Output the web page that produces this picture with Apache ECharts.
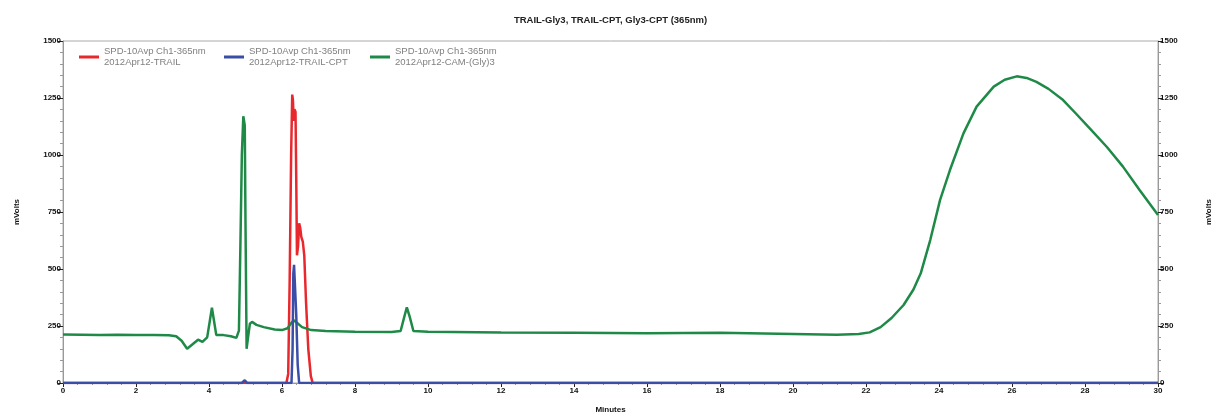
<!DOCTYPE html>
<html>
<head>
<meta charset="utf-8">
<title>TRAIL-Gly3, TRAIL-CPT, Gly3-CPT (365nm)</title>
<script src="https://cdn.jsdelivr.net/npm/echarts@6/dist/echarts.min.js"></script>
<style>
    html, body { margin: 0; padding: 0; background: #fff; }
    #chart { width: 1221px; height: 419px; }
</style>
</head>
<body>
<div id="chart"></div>
<script>
// 色谱图 365nm
var seriesNames = [
    'SPD-10Avp Ch1-365nm\n2012Apr12-TRAIL',
    'SPD-10Avp Ch1-365nm\n2012Apr12-TRAIL-CPT',
    'SPD-10Avp Ch1-365nm\n2012Apr12-CAM-(Gly)3'
];

// [分钟, mVolts]
var trailData = [
    [0, 0], [6.12, 0], [6.17, 40], [6.21, 450], [6.25, 1000], [6.28, 1265],
    [6.30, 1240], [6.32, 1150], [6.34, 1200], [6.37, 1190], [6.39, 900],
    [6.41, 560], [6.44, 600], [6.47, 700], [6.50, 680], [6.53, 640],
    [6.57, 620], [6.61, 560], [6.66, 350], [6.72, 150], [6.79, 30],
    [6.84, 0], [30, 0]
];

var trailCptData = [
    [0, 0], [4.9, 0], [4.98, 12], [5.05, 0], [6.26, 0], [6.29, 150],
    [6.31, 480], [6.33, 518], [6.36, 510], [6.39, 300], [6.43, 80],
    [6.47, 0], [30, 0]
];

var gly3Data = [
    [0, 213], [0.5, 212], [1, 210], [1.5, 212], [2, 210], [2.5, 210],
    [2.9, 209], [3.1, 205], [3.25, 185], [3.4, 150], [3.55, 170],
    [3.7, 190], [3.82, 180], [3.95, 200], [4.02, 270], [4.08, 330],
    [4.14, 270], [4.2, 210], [4.4, 210], [4.6, 205], [4.75, 198],
    [4.82, 230], [4.86, 600], [4.9, 1000], [4.94, 1170], [4.98, 1130],
    [5.0, 700], [5.03, 150], [5.07, 200], [5.12, 260], [5.18, 268],
    [5.3, 255], [5.5, 245], [5.8, 235], [6.0, 232], [6.15, 240],
    [6.25, 262], [6.32, 275], [6.4, 265], [6.55, 245], [6.8, 232],
    [7.2, 228], [8, 225], [9, 224], [9.25, 228], [9.35, 290], [9.42, 332],
    [9.5, 290], [9.6, 228], [10, 225], [12, 222], [14, 220], [16, 218],
    [18, 220], [20, 215], [21.2, 212], [21.8, 215], [22.1, 222],
    [22.4, 245], [22.7, 285], [23.03, 342], [23.3, 410], [23.5, 481],
    [23.76, 627], [24.03, 803], [24.3, 934], [24.67, 1095], [25.03, 1212],
    [25.5, 1300], [25.8, 1330], [26.13, 1345], [26.4, 1338], [26.67, 1321],
    [27.0, 1290], [27.4, 1241], [27.75, 1182], [28.13, 1117], [28.6, 1035],
    [29.04, 949], [29.5, 845], [30, 737]
];

var colors = ['#e8282d', '#3a4ea8', '#1f8a47'];

var chart = echarts.init(document.getElementById('chart'));

var boldText = {
    color: '#111',
    fontSize: 8,
    fontWeight: 'bold',
    fontFamily: 'Liberation Sans'
};

function yAxisAt(position, gap) {
    return {
        type: 'value',
        position: position,
        min: 0,
        max: 1500,
        interval: 250,
        name: 'mVolts',
        nameLocation: 'middle',
        nameGap: gap,
        nameRotate: 90,
        nameTextStyle: boldText,
        axisLine: { show: true, lineStyle: { color: '#999', width: 1 } },
        axisTick: { show: true, length: 5, lineStyle: { color: '#222' } },
        minorTick: { show: true, splitNumber: 5, length: 3, lineStyle: { color: '#999' } },
        axisLabel: Object.assign({}, boldText, {
            margin: 2,
            formatter: function (v) { return String(v); }
        }),
        splitLine: { show: false }
    };
}

function legendAt(left, idx) {
    return {
        left: left,
        top: 46,
        padding: 0,
        orient: 'horizontal',
        data: [seriesNames[idx]],
        icon: 'rect',
        itemWidth: 20,
        itemHeight: 3,
        itemGap: 5,
        textStyle: {
            color: '#808080',
            fontSize: 9.5,
            lineHeight: 11,
            fontFamily: 'Liberation Sans'
        }
    };
}

var option = {
    animation: false,
    backgroundColor: '#fff',
    color: colors,
    title: {
        text: 'TRAIL-Gly3, TRAIL-CPT, Gly3-CPT (365nm)',
        left: 'center',
        top: 10,
        textStyle: {
            color: '#222',
            fontSize: 9.5,
            fontWeight: 'bold',
            fontFamily: 'Liberation Sans'
        }
    },
    legend: [legendAt(79, 0), legendAt(224, 1), legendAt(370, 2)],
    grid: {
        left: 63,
        right: 58,
        top: 41,
        bottom: 36,
        show: true,
        borderColor: '#aaa',
        borderWidth: 1
    },
    xAxis: {
        type: 'value',
        min: 0,
        max: 30,
        interval: 2,
        name: 'Minutes',
        nameLocation: 'middle',
        nameGap: 23,
        nameTextStyle: boldText,
        axisLine: { show: true, lineStyle: { color: '#999' } },
        axisTick: { show: true, length: 4, lineStyle: { color: '#222' } },
        minorTick: { show: true, splitNumber: 5, length: 2, lineStyle: { color: '#999' } },
        axisLabel: Object.assign({}, boldText, { margin: 4 }),
        splitLine: { show: false }
    },
    yAxis: [yAxisAt('left', 42), yAxisAt('right', 47)],
    series: [
        {
            name: seriesNames[0],
            type: 'line',
            data: trailData,
            showSymbol: false,
            z: 2,
            lineStyle: { color: colors[0], width: 2.5 }
        },
        {
            name: seriesNames[1],
            type: 'line',
            data: trailCptData,
            showSymbol: false,
            z: 4,
            lineStyle: { color: colors[1], width: 2.5 }
        },
        {
            name: seriesNames[2],
            type: 'line',
            data: gly3Data,
            showSymbol: false,
            z: 3,
            lineStyle: { color: colors[2], width: 2.5 }
        }
    ]
};

chart.setOption(option);
</script>
</body>
</html>
